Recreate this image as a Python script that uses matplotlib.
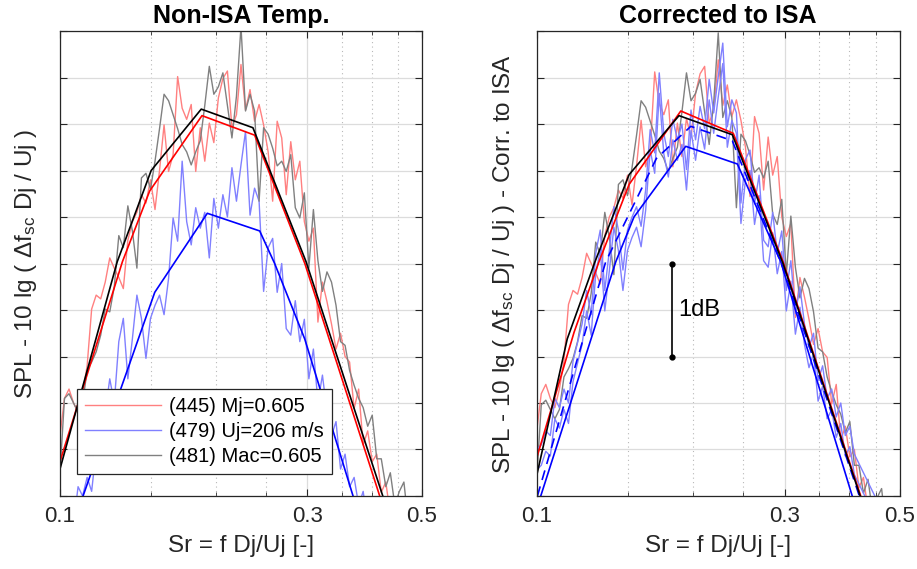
import numpy as np
import matplotlib
matplotlib.use('Agg')
import matplotlib.pyplot as plt
from matplotlib.ticker import NullFormatter

plt.rcParams['font.family'] = ['Liberation Sans', 'DejaVu Sans']
plt.rcParams['mathtext.fontset'] = 'custom'
plt.rcParams['mathtext.rm'] = 'Liberation Sans'
plt.rcParams['mathtext.it'] = 'Liberation Sans:italic'

# narrowband bins (Strouhal number), log spaced
sr_bins = np.geomspace(0.1, 0.5, 81)

# measured spectra, non-ISA (dB, arbitrary reference)
red_spl = [0.65, 1.05, 1.15, 1.00, 0.90, 1.10, 1.40, 2.01, 2.16, 2.12,
           2.30, 2.56, 2.45, 2.35, 2.23, 2.75, 2.95, 3.05, 3.24, 3.15,
           3.40, 3.08, 3.50, 3.99, 3.49, 3.67, 4.51, 4.17, 4.05, 4.21,
           3.49, 3.96, 3.60, 4.01, 3.80, 4.28, 4.49, 4.57, 3.96, 4.10,
           4.64, 4.15, 4.37, 4.03, 4.21, 3.99, 3.70, 3.17, 4.03, 3.85,
           3.24, 3.81, 3.40, 3.60, 2.95, 2.74, 2.88, 1.87, 2.30, 2.09,
           1.85, 1.58, 1.75, 1.50, 1.44, 0.94, 1.15, 0.55, 0.70, 0.37,
           0.45, 0.04, 0.15, -0.20, -0.10, -0.50, -0.55, -0.65, -0.70, -0.80, -0.90]
blue_spl = [-0.45, -0.40, -0.25, -0.30, 0.10, 0.00, 0.20, 0.05, 0.50, 0.70,
            0.90, 1.26, 1.00, 1.66, 1.91, 1.26, 1.69, 2.16, 1.91, 1.48,
            1.91, 2.05, 2.16, 1.95, 2.34, 2.99, 2.74, 3.60, 2.95, 2.70,
            3.10, 2.88, 3.05, 2.56, 3.20, 2.88, 3.24, 3.00, 3.53, 3.17,
            3.56, 3.92, 3.02, 3.31, 3.17, 2.20, 2.67, 2.77, 2.19, 2.50,
            1.80, 1.73, 2.10, 1.66, 1.90, 1.26, 1.58, 1.01, 1.30, 0.90,
            0.65, 0.80, 0.29, 0.45, 0.10, 0.20, -0.10, 0.05, -0.30, -0.20,
            -0.50, -0.60, -0.70, -0.80, -0.90, -1.00, -1.10, -1.20, -1.30, -1.40, -1.50]
gray_spl = [0.25, 1.05, 1.10, 1.00, 0.90, 1.00, 1.35, 1.44, 1.55, 1.73,
            2.01, 1.98, 2.25, 2.80, 2.67, 3.12, 2.85, 2.45, 3.42, 3.47,
            3.30, 3.60, 3.95, 4.32, 4.25, 4.10, 3.95, 3.78, 3.70, 3.56,
            3.70, 3.82, 4.20, 4.62, 4.32, 4.40, 4.55, 4.20, 3.85, 4.30,
            5.05, 4.14, 4.32, 4.14, 3.17, 3.96, 3.89, 3.74, 3.55, 3.60,
            3.49, 3.67, 3.10, 2.99, 3.26, 2.45, 3.08, 2.53, 2.20, 2.41,
            2.30, 2.05, 1.66, 1.62, 1.35, 1.19, 1.05, 0.95, 0.75, 0.87,
            0.40, 0.40, 0.10, 0.25, -0.10, 0.05, 0.15, -0.30, -0.40, -0.60, -0.70]

# ISA corrections (dB)
corr_red = 0.05
corr_gray = -0.07
corr_blue_a = 0.95
corr_blue_b = 0.73

# fitted spectrum shapes, left panel
fit_red_sr = [0.1, 0.132, 0.149, 0.188, 0.2376, 0.297, 0.4143]
fit_red_db = [0.37, 2.52, 3.28, 4.09, 3.88, 2.50, 0.0]
fit_blue_sr = [0.1108, 0.1524, 0.1925, 0.243, 0.2597, 0.2968, 0.368]
fit_blue_db = [0.0, 2.19, 3.04, 2.85, 2.50, 1.69, 0.0]
fit_black_sr = [0.1, 0.129, 0.150, 0.1874, 0.2358, 0.2986, 0.420]
fit_black_db = [0.29, 2.52, 3.50, 4.16, 3.96, 2.52, 0.0]

# fitted spectrum shapes, right panel
fitR_red_sr = [0.1, 0.118, 0.1318, 0.1506, 0.1894, 0.239, 0.298, 0.4206]
fitR_red_db = [0.41, 1.76, 2.52, 3.35, 4.14, 3.90, 2.52, 0.0]
fitR_black_sr = [0.1, 0.1145, 0.1295, 0.1506, 0.1879, 0.238, 0.298, 0.4195]
fitR_black_db = [0.22, 1.69, 2.52, 3.455, 4.09, 3.885, 2.50, 0.0]
fitR_blue_sr = [0.1018, 0.142, 0.1539, 0.1936, 0.2434, 0.295, 0.405]
fitR_blue_db = [0.0, 2.52, 3.0, 3.76, 3.57, 2.52, 0.0]
fitR_bdash_sr = [0.1003, 0.1358, 0.170, 0.198, 0.238, 0.298, 0.418]
fitR_bdash_db = [0.0, 2.52, 3.63, 3.975, 3.82, 2.45, 0.0]

labels = ['(445) Mj=0.605', '(479) Uj=206 m/s', '(481) Mac=0.605']

c_red_l = '#ff8080'
c_blue_l = '#8080ff'
c_gray_l = '#808080'
ink = '#262626'

fig = plt.figure(figsize=(9.17, 5.69), dpi=100)
axL = fig.add_axes([0.0654, 0.1283, 0.3948, 0.8172])
axR = fig.add_axes([0.5853, 0.1283, 0.3959, 0.8172])

for ax in (axL, axR):
    ax.set_xscale('log')
    ax.set_xlim(0.1, 0.5)
    ax.set_ylim(0, 5)
    ax.set_xticks([0.1, 0.3, 0.5])
    ax.set_xticklabels(['0.1', '0.3', '0.5'])
    ax.set_xticks([0.15, 0.2, 0.25, 0.35, 0.4, 0.45], minor=True)
    ax.xaxis.set_minor_formatter(NullFormatter())
    ax.set_yticks(np.arange(0, 5.01, 0.5))
    ax.set_yticklabels([])
    ax.grid(which='major', color='#dcdcdc', lw=0.9)
    ax.grid(which='minor', axis='x', color='#b8b8b8', ls=(0, (1, 3)), lw=0.8)
    ax.set_axisbelow(True)
    ax.tick_params(which='both', direction='in', top=True, right=True,
                   colors=ink, labelsize=16, pad=7)
    ax.tick_params(which='major', length=5)
    ax.tick_params(which='minor', length=3)
    for s in ax.spines.values():
        s.set_color(ink)
        s.set_linewidth(0.9)
    ax.set_xlabel('Sr = f Dj/Uj [-]', fontsize=17.5, color=ink, labelpad=6)

# left panel
h1, = axL.plot(sr_bins, red_spl, color=c_red_l, lw=1)
h2, = axL.plot(sr_bins, blue_spl, color=c_blue_l, lw=1)
h3, = axL.plot(sr_bins, gray_spl, color=c_gray_l, lw=1)
axL.plot(fit_red_sr, fit_red_db, color='red', lw=1.2)
axL.plot(fit_blue_sr, fit_blue_db, color='blue', lw=1.2)
axL.plot(fit_black_sr, fit_black_db, color='black', lw=1.2)
axL.set_title('Non-ISA Temp.', fontsize=18, fontweight='bold', pad=6)
axL.set_ylabel('SPL - 10 lg ( \u0394f$_{\\rm sc}$ Dj / Uj )', fontsize=17.5, color=ink, labelpad=8)
leg = axL.legend([h1, h2, h3], labels, loc='lower left', bbox_to_anchor=(0.046, 0.047),
                 borderaxespad=0, fancybox=False, edgecolor=ink, framealpha=1,
                 fontsize=14.5, handlelength=3.8, handletextpad=0.4, labelspacing=0.3)
leg.get_frame().set_linewidth(0.9)

# right panel
axR.plot(sr_bins, np.array(red_spl) + corr_red, color=c_red_l, lw=1)
axR.plot(sr_bins, np.array(gray_spl) + corr_gray, color=c_gray_l, lw=1)
axR.plot(sr_bins, np.array(blue_spl) + corr_blue_a, color=c_blue_l, lw=1)
axR.plot(sr_bins, np.array(blue_spl) + corr_blue_b, color=c_blue_l, lw=1)
axR.plot(fitR_bdash_sr, fitR_bdash_db, color='blue', lw=1.2, ls=(0, (6, 4)))
axR.plot(fitR_blue_sr, fitR_blue_db, color='blue', lw=1.2)
axR.plot(fitR_red_sr, fitR_red_db, color='red', lw=1.2)
axR.plot(fitR_black_sr, fitR_black_db, color='black', lw=1.2)
axR.plot([0.182, 0.182], [1.5, 2.5], color='black', lw=1.2, marker='o', ms=3.5)
axR.text(0.187, 2.0, '1dB', fontsize=17, va='center', ha='left')
axR.set_title('Corrected to ISA', fontsize=18, fontweight='bold', pad=6)
axR.set_ylabel('SPL - 10 lg ( \u0394f$_{\\rm sc}$ Dj / Uj ) - Corr. to ISA', fontsize=17.5,
               color=ink, labelpad=7)

fig.savefig('out.png', dpi=100)
